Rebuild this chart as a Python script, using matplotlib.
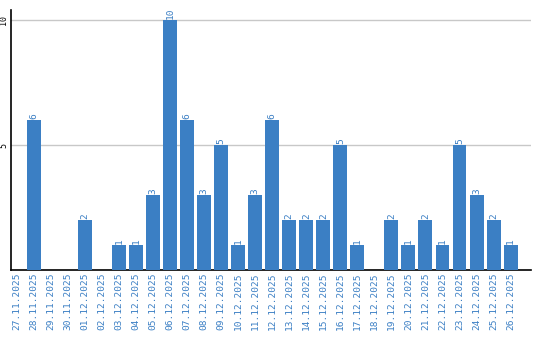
import matplotlib
matplotlib.use("Agg")
import matplotlib.pyplot as plt

dates = ["27.11.2025", "28.11.2025", "29.11.2025", "30.11.2025", "01.12.2025",
         "02.12.2025", "03.12.2025", "04.12.2025", "05.12.2025", "06.12.2025",
         "07.12.2025", "08.12.2025", "09.12.2025", "10.12.2025", "11.12.2025",
         "12.12.2025", "13.12.2025", "14.12.2025", "15.12.2025", "16.12.2025",
         "17.12.2025", "18.12.2025", "19.12.2025", "20.12.2025", "21.12.2025",
         "22.12.2025", "23.12.2025", "24.12.2025", "25.12.2025", "26.12.2025"]
values = [0, 6, 0, 0, 2, 0, 1, 1, 3, 10, 6, 3, 5, 1, 3, 6, 2, 2, 2, 5,
          1, 0, 2, 1, 2, 1, 5, 3, 2, 1]
yticks = [5, 10]

blue = "#3b7fc4"
fig = plt.figure(figsize=(5.4, 3.4), dpi=100)
ax = fig.add_axes([11/540, 1-270/340, 520/540, 260/340])
x = list(range(len(dates)))
ax.bar(x, values, width=0.82, color=blue, zorder=3)
for xi, v in zip(x, values):
    if v > 0:
        ax.text(xi, v + 0.05, str(v), rotation=90, ha="center", va="bottom",
                color=blue, fontsize=6.8, family="DejaVu Sans Mono")
ax.set_xlim(-0.35, 30.2)
ax.set_ylim(0, 10.4)
ax.set_yticks(yticks)
ax.set_yticklabels([str(t) for t in yticks], rotation=90, va="center",
                   fontsize=6, family="DejaVu Sans Mono")
ax.set_xticks(x)
ax.set_xticklabels(dates, rotation=90, color=blue, fontsize=6.8,
                   family="DejaVu Sans Mono")
ax.tick_params(axis="both", length=0, pad=2)
ax.grid(axis="y", color="#c8c8c8", linewidth=1, zorder=0)
for s in ["top", "right"]:
    ax.spines[s].set_visible(False)
ax.spines["left"].set_linewidth(1.2)
ax.spines["bottom"].set_linewidth(1.2)
fig.savefig("out.png", dpi=100)
